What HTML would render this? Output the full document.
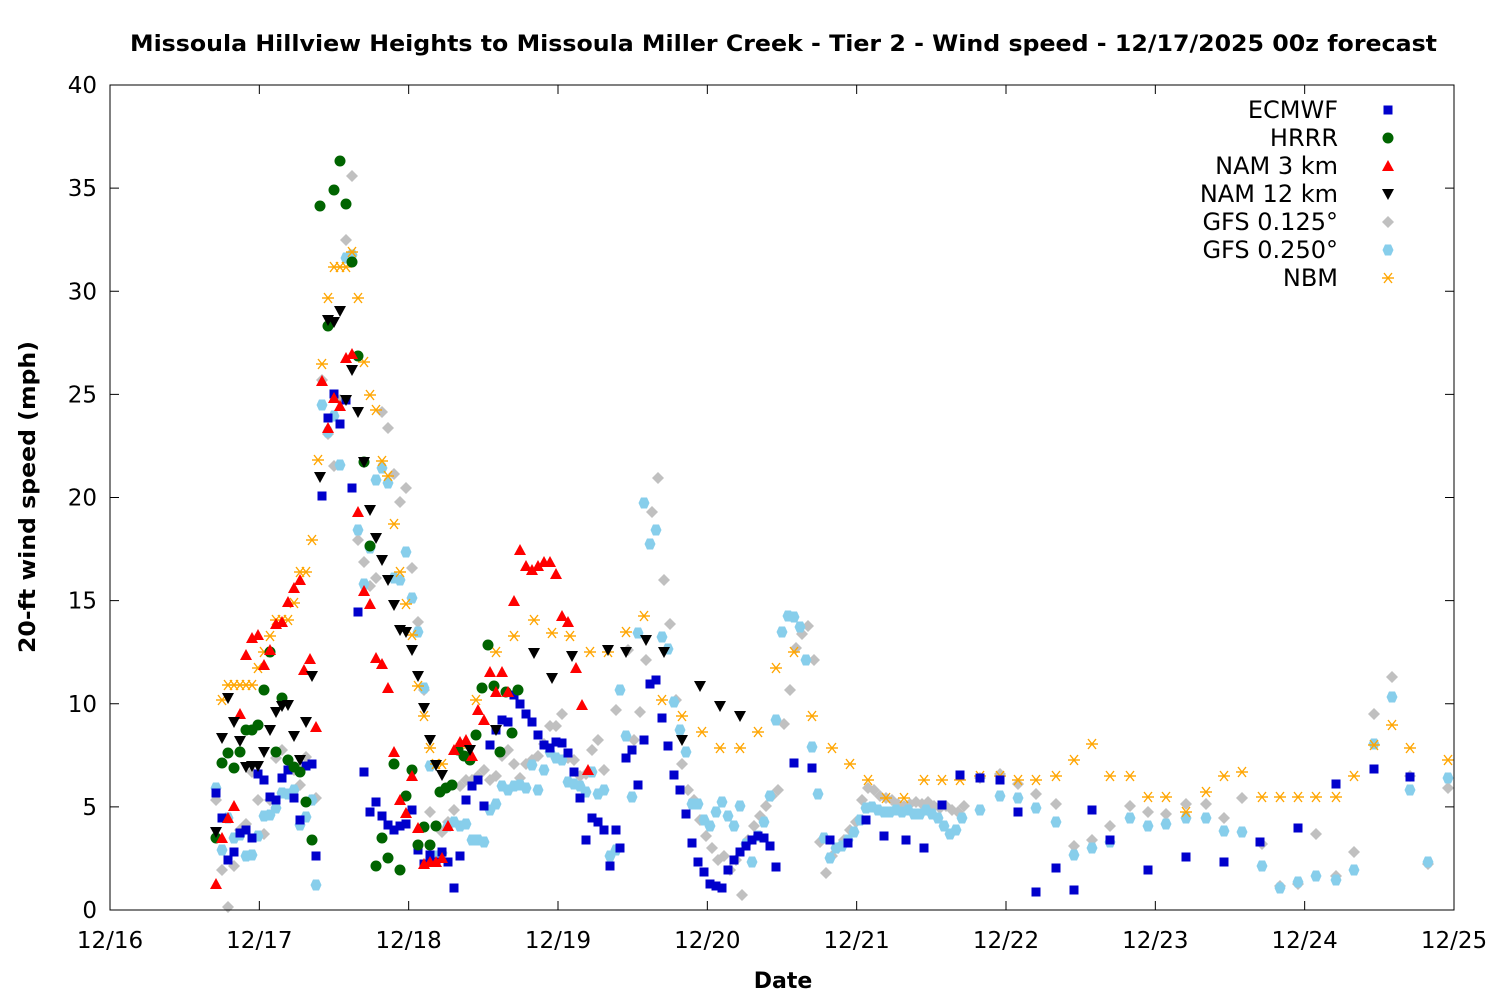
<!DOCTYPE html>
<html><head><meta charset="utf-8"><style>
html,body{margin:0;padding:0;background:#fff;}
svg{display:block;font-family:"DejaVu Sans","Liberation Sans",sans-serif;}
</style></head><body>
<svg id="s" width="1500" height="1000" viewBox="0 0 1500 1000" xmlns="http://www.w3.org/2000/svg">
<rect width="1500" height="1000" fill="#fff"/>
<text x="130" y="51" font-size="22" font-weight="bold" textLength="1307" lengthAdjust="spacingAndGlyphs">Missoula Hillview Heights to Missoula Miller Creek - Tier 2 - Wind speed - 12/17/2025 00z forecast</text>
<g id="axes"></g>
<g id="pts"></g>
<rect x="110" y="85" width="1344" height="825" fill="none" stroke="#000" stroke-width="1"/>
<text x="783" y="988" text-anchor="middle" font-size="22" font-weight="bold">Date</text>
<text transform="translate(35,497) rotate(-90)" text-anchor="middle" font-size="22" font-weight="bold" textLength="312" lengthAdjust="spacingAndGlyphs">20-ft wind speed (mph)</text>
<g font-size="24" text-anchor="end">
<text x="1338" y="118">ECMWF</text>
<text x="1338" y="146">HRRR</text>
<text x="1338" y="174">NAM 3 km</text>
<text x="1338" y="202">NAM 12 km</text>
<text x="1338" y="230">GFS 0.125°</text>
<text x="1338" y="258">GFS 0.250°</text>
<text x="1338" y="286">NBM</text>
</g>
</svg>
<script>
var NS="http://www.w3.org/2000/svg";
var ax=document.getElementById("axes"),pg=document.getElementById("pts");
function el(t,a,p){var e=document.createElementNS(NS,t);for(var k in a)e.setAttribute(k,a[k]);(p||pg).appendChild(e);return e;}
var xl=["12/16","12/17","12/18","12/19","12/20","12/21","12/22","12/23","12/24","12/25"];
for(var i=0;i<10;i++){var x=110+149.333*i;
el("line",{x1:x,y1:910,x2:x,y2:901,stroke:"#000"},ax);el("line",{x1:x,y1:85,x2:x,y2:94,stroke:"#000"},ax);
var t=el("text",{x:x,y:948,"text-anchor":"middle","font-size":"23"},ax);t.textContent=xl[i];}
for(var i=0;i<=8;i++){var y=910-103.125*i;
el("line",{x1:110,y1:y,x2:119,y2:y,stroke:"#000"},ax);el("line",{x1:1454,y1:y,x2:1445,y2:y,stroke:"#000"},ax);
var t=el("text",{x:97,y:y+8,"text-anchor":"end","font-size":"23"},ax);t.textContent=String(i*5);}
function sq(x,y){el("rect",{x:x-4.5,y:y-4.5,width:9,height:9,fill:"#0000cc"});}
function ci(x,y){el("circle",{cx:x,cy:y,r:5.5,fill:"#006400"});}
function tu(x,y){el("polygon",{points:(x-6)+","+(y+5)+" "+(x+6)+","+(y+5)+" "+x+","+(y-6),fill:"#ff0000"});}
function td(x,y){el("polygon",{points:(x-6)+","+(y-5)+" "+(x+6)+","+(y-5)+" "+x+","+(y+6),fill:"#000"});}
function di(x,y){el("polygon",{points:x+","+(y-6)+" "+(x+6)+","+y+" "+x+","+(y+6)+" "+(x-6)+","+y,fill:"#c0c0c0"});}
function hx(x,y){el("polygon",{points:(x-3)+","+(y-5.5)+" "+(x+3)+","+(y-5.5)+" "+(x+5.5)+","+y+" "+(x+3)+","+(y+5.5)+" "+(x-3)+","+(y+5.5)+" "+(x-5.5)+","+y,fill:"#87ceeb"});}
function st(x,y){var g=el("g",{stroke:"#ffa500","stroke-width":"1.4"});
el("line",{x1:x-6,y1:y,x2:x+6,y2:y},g);el("line",{x1:x-4,y1:y-5,x2:x+4,y2:y+5},g);el("line",{x1:x-4,y1:y+5,x2:x+4,y2:y-5},g);}
function P(f,a){for(var i=0;i<a.length;i+=2)f(a[i],a[i+1]);}
P(di,[216,800,222,870,228,907,234,866,240,830,246,824,252,772,258,800,264,834,270,800,276,758,282,750,288,760,294,770,300,785,306,757,312,800,316,798,322,380,328,434,334,466,340,400,346,240,352,176,358,540,364,562,370,586,376,578,382,412,388,428,394,474,400,502,406,488,412,568,418,622,424,690,430,812,436,826,442,832,448,822,454,810,460,786,466,780,472,780,478,776,484,770,490,780,496,776,502,756,508,750,514,764,520,778,526,764,532,760,538,756,544,744,550,726,556,726,562,714,568,758,574,760,580,776,586,774,592,750,598,740,604,770,616,710,628,650,634,740,640,712,646,660,652,512,658,478,664,580,670,624,676,700,682,764,688,790,694,800,700,820,706,836,712,848,718,860,724,856,730,870,736,860,742,895,748,840,754,826,760,816,766,806,772,796,778,790,784,724,790,690,796,648,802,634,808,626,814,660,820,842,826,873,832,856,838,848,844,840,850,830,856,822,862,800,868,788,874,790,880,796,886,798,892,800,898,804,904,806,910,804,916,802,922,804,928,802,934,806,940,808,946,806,952,810,958,812,964,806,980,778,1000,774,1018,784,1036,794,1056,804,1074,846,1092,840,1110,826,1130,806,1148,812,1166,814,1186,804,1206,804,1224,818,1242,798,1262,844,1280,886,1298,884,1316,834,1336,876,1354,852,1374,714,1392,677,1410,776,1428,864,1448,788]);
P(hx,[216,788,222,850,228,818,234,838,240,835,246,856,252,855,258,836,264,816,270,815,276,808,282,793,288,794,294,790,300,825,306,817,312,800,316,885,322,405,328,432,334,416,340,465,346,258,352,255,358,530,364,584,370,548,376,480,382,468,388,483,394,578,400,580,406,552,412,598,418,632,424,688,430,766,436,856,442,853,448,826,454,822,460,826,466,824,472,840,478,840,484,842,490,810,496,804,502,786,508,790,514,786,520,785,526,788,532,765,538,790,544,770,550,752,556,758,562,760,568,782,574,784,580,786,586,792,592,772,598,794,604,790,610,856,616,850,620,690,626,736,632,797,638,633,644,503,650,544,656,530,662,637,668,649,674,702,680,730,686,752,692,804,698,804,704,820,710,826,716,812,722,802,728,816,734,826,740,806,746,844,752,862,758,836,764,822,770,796,776,720,782,632,788,616,794,617,800,627,806,660,812,747,818,794,824,838,830,858,836,848,842,846,848,840,854,832,860,820,866,808,872,807,878,810,884,812,890,812,896,810,902,812,908,810,914,814,920,814,926,810,932,814,938,818,944,826,950,834,956,830,962,818,980,810,1000,796,1018,798,1036,808,1056,822,1074,855,1092,848,1110,842,1130,818,1148,826,1166,824,1186,818,1206,818,1224,831,1242,832,1262,866,1280,888,1298,882,1316,876,1336,880,1354,870,1374,744,1392,697,1410,790,1428,862,1448,778]);
P(st,[222,700,228,685,234,685,240,685,246,685,252,685,258,668,264,652,270,636,276,620,282,620,288,620,294,603,300,572,306,572,312,540,318,460,322,364,328,298,334,267,340,267,346,267,352,252,358,298,364,362,370,395,376,410,382,461,388,476,394,524,400,572,406,604,412,635,418,686,424,716,430,748,436,764,442,764,460,748,476,700,496,652,514,636,534,620,552,633,570,636,590,652,608,652,626,632,644,616,662,700,682,716,702,732,720,748,740,748,758,732,776,668,794,652,812,716,832,748,850,764,868,780,886,798,904,798,924,780,942,780,960,780,980,776,1000,776,1018,780,1036,780,1056,776,1074,760,1092,744,1110,776,1130,776,1148,797,1166,797,1186,812,1206,792,1224,776,1242,772,1262,797,1280,797,1298,797,1316,797,1336,797,1354,776,1374,745,1392,725,1410,748,1448,760]);
P(sq,[216,793,222,818,228,860,234,852,240,833,246,830,252,838,258,774,264,780,270,797,276,800,282,778,288,770,294,798,300,820,306,766,312,764,316,856,322,496,328,418,334,394,340,424,346,400,352,488,358,612,364,772,370,812,376,802,382,816,388,825,394,830,400,826,406,824,412,810,418,850,424,864,430,855,436,862,442,852,448,862,454,888,460,856,466,800,472,786,478,780,484,806,490,745,496,730,502,720,508,722,514,695,520,704,526,714,532,722,538,735,544,745,550,748,556,742,562,743,568,753,574,772,580,798,586,840,592,818,598,822,604,830,610,866,616,830,620,848,626,758,632,750,638,785,644,740,650,684,656,680,662,718,668,746,674,775,680,790,686,814,692,843,698,862,704,872,710,884,716,886,722,888,728,870,734,860,740,852,746,846,752,840,758,836,764,838,770,846,776,867,794,763,812,768,830,840,848,843,866,820,884,836,906,840,924,848,942,805,960,775,980,778,1000,780,1018,812,1036,892,1056,868,1074,890,1092,810,1110,840,1148,870,1186,857,1224,862,1260,842,1298,828,1336,784,1374,769,1410,777]);
P(ci,[216,838,222,763,228,753,234,768,240,752,246,730,252,730,258,725,264,690,270,652,276,752,282,698,288,760,294,767,300,772,306,802,312,840,320,206,328,326,334,190,340,161,346,204,352,262,358,356,364,462,370,546,376,866,382,838,388,858,394,764,400,870,406,796,412,770,418,845,424,827,430,845,436,826,440,792,446,788,452,785,458,750,464,756,470,760,476,735,482,688,488,645,494,686,500,752,506,692,512,733,518,690]);
P(tu,[216,884,222,838,228,818,234,806,240,714,246,655,252,638,258,635,264,665,270,650,276,624,282,622,288,602,294,588,300,580,304,670,310,659,316,727,322,381,328,428,334,398,340,406,346,358,352,354,358,512,364,591,370,604,376,658,382,664,388,688,394,752,400,800,406,813,412,776,418,828,424,864,430,862,436,862,442,858,448,826,454,750,460,742,466,740,472,756,478,710,484,720,490,672,496,692,502,672,508,692,514,601,520,550,526,566,532,570,538,566,544,562,550,562,556,574,562,616,568,622,576,668,582,705,588,770]);
P(td,[216,832,222,738,228,698,234,722,240,741,246,767,252,766,258,766,264,752,270,730,276,712,282,706,288,705,294,736,300,760,306,722,312,676,320,477,328,320,334,322,340,311,346,400,352,370,358,412,364,462,370,510,376,538,382,560,388,580,394,605,400,630,406,632,412,650,418,676,424,708,430,740,436,765,442,775,470,750,496,730,534,653,552,678,572,656,608,650,626,652,646,640,664,652,682,740,700,686,720,706,740,716]);
sq(1388,110);ci(1388,138);tu(1388,166);td(1388,194);di(1388,222);hx(1388,250);st(1388,278);
</script>
</body></html>
